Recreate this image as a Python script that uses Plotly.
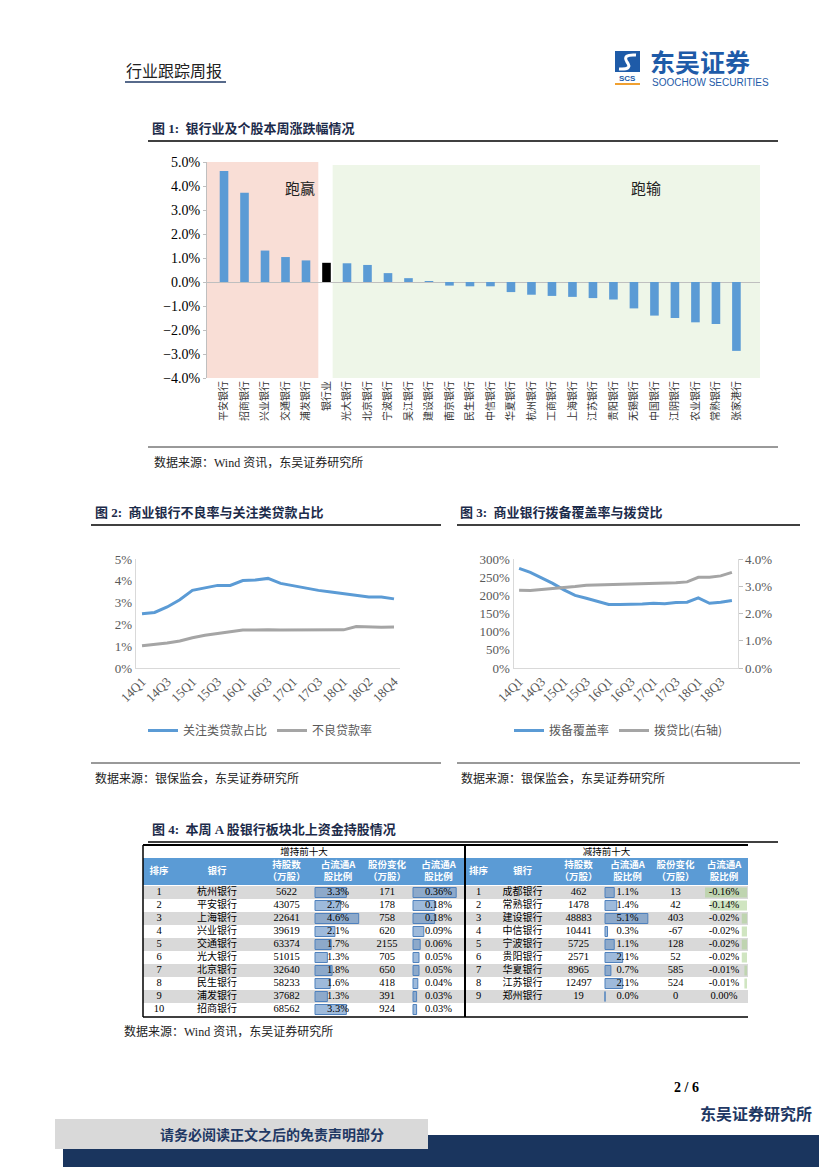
import plotly.graph_objects as go

W, H = 827, 1169          # page (screen) size
OFF = 8                   # page body margin in front of the figure
FW, FH = W - OFF, H - OFF # figure size so it ends exactly at the screen edge

def px(x): return (x - OFF) / FW
def py(y): return 1 - (y - OFF) / FH

SERIF = "Liberation Serif, DejaVu Serif, serif"
CJK = "Noto Sans CJK SC, sans-serif"
MIX = "Liberation Serif, Noto Sans CJK SC, serif"
BLUE = "#5B9BD5"
GRAY = "#A5A5A5"
NAVY = "#1F3864"
TITLE_C = "#1C2B4A"

# ---------------- Figure 1 data ----------------
banks1 = ["平安银行", "招商银行", "兴业银行", "交通银行", "浦发银行", "银行业", "光大银行", "北京银行",
          "宁波银行", "吴江银行", "建设银行", "南京银行", "民生银行", "中信银行", "华夏银行", "杭州银行",
          "工商银行", "上海银行", "江苏银行", "贵阳银行", "无锡银行", "中国银行", "江阴银行", "农业银行",
          "常熟银行", "张家港行"]
weekly_chg = [4.62, 3.72, 1.31, 1.04, 0.90, 0.80, 0.78, 0.71, 0.37, 0.16, 0.01, -0.15, -0.18, -0.18,
              -0.42, -0.53, -0.58, -0.62, -0.67, -0.73, -1.10, -1.40, -1.50, -1.68, -1.75, -2.87]

# ---------------- Figure 2 data ----------------
q2_labels = ["14Q1", "14Q2", "14Q3", "14Q4", "15Q1", "15Q2", "15Q3", "15Q4", "16Q1", "16Q2", "16Q3",
             "16Q4", "17Q1", "17Q2", "17Q3", "17Q4", "18Q1", "18Q1'", "18Q2", "18Q3", "18Q4"]
special_mention = [2.49, 2.55, 2.80, 3.13, 3.56, 3.67, 3.79, 3.79, 4.01, 4.04, 4.11, 3.88, 3.78, 3.65,
                   3.56, 3.49, 3.41, 3.33, 3.26, 3.26, 3.17]
npl_ratio = [1.02, 1.07, 1.15, 1.24, 1.39, 1.50, 1.59, 1.67, 1.74, 1.74, 1.76, 1.74, 1.74, 1.74, 1.74,
             1.74, 1.75, 1.90, 1.87, 1.87, 1.88]

# ---------------- Figure 3 data ----------------
q3_labels = ["14Q1", "14Q2", "14Q3", "14Q4", "15Q1", "15Q2", "15Q3", "15Q4", "16Q1", "16Q2", "16Q3",
             "16Q4", "17Q1", "17Q2", "17Q3", "17Q4", "18Q1", "18Q2", "18Q3", "18Q4"]
coverage = [274, 263, 248, 233, 215, 200, 192, 183, 175, 175, 175, 176, 178, 177, 180, 181, 193, 178,
            181, 186]
provision_ratio = [2.85, 2.84, 2.88, 2.91, 2.96, 2.99, 3.04, 3.05, 3.07, 3.08, 3.09, 3.09, 3.11, 3.10,
                   3.13, 3.16, 3.33, 3.33, 3.38, 3.51]

# ---------------- Figure 4 table data ----------------
t_headers = ["排序", "银行", "持股数<br>（万股）", "占流通A<br>股比例", "股份变化<br>（万股）", "占流通A<br>股比例"]
inc_rank = [1, 2, 3, 4, 5, 6, 7, 8, 9, 10]
inc_bank = ["杭州银行", "平安银行", "上海银行", "兴业银行", "交通银行", "光大银行", "北京银行", "民生银行",
            "浦发银行", "招商银行"]
inc_shares = [5622, 43075, 22641, 39619, 63374, 51015, 32640, 58233, 37682, 68562]
inc_pct = [3.3, 2.7, 4.6, 2.1, 1.7, 1.3, 1.8, 1.6, 1.3, 3.3]
inc_change = [171, 178, 758, 620, 2155, 705, 650, 418, 391, 924]
inc_chg_pct = [0.36, 0.18, 0.18, 0.09, 0.06, 0.05, 0.05, 0.04, 0.03, 0.03]

dec_rank = [1, 2, 3, 4, 5, 6, 7, 8, 9]
dec_bank = ["成都银行", "常熟银行", "建设银行", "中信银行", "宁波银行", "贵阳银行", "华夏银行", "江苏银行",
            "郑州银行"]
dec_shares = [462, 1478, 48883, 10441, 5725, 2571, 8965, 12497, 19]
dec_pct = [1.1, 1.4, 5.1, 0.3, 1.1, 2.1, 0.7, 2.1, 0.0]
dec_change = [13, 42, 403, -67, 128, 52, 585, 524, 0]
dec_chg_pct = [-0.16, -0.14, -0.02, -0.02, -0.02, -0.02, -0.01, -0.01, 0.00]

fig = go.Figure()
shapes = []
anns = []

def hline(x0, x1, y, color="#000", w=1.0):
    shapes.append(dict(type="line", xref="paper", yref="paper", x0=px(x0), x1=px(x1), y0=py(y), y1=py(y),
                       line=dict(color=color, width=w)))

def rect(x0, y0, x1, y1, fill, ref="paper", layer="above", lw=0, lc=None):
    if ref == "paper":
        d = dict(type="rect", xref="paper", yref="paper", x0=px(x0), x1=px(x1), y0=py(y0), y1=py(y1))
    else:
        d = dict(type="rect", xref="x5", yref="y5", x0=x0, x1=x1, y0=y0, y1=y1)
    d.update(fillcolor=fill, layer=layer, line=dict(width=lw, color=lc or fill))
    shapes.append(d)

def ann(text, x, y, size, color="#000", family=MIX, xanchor="left", yanchor="middle"):
    anns.append(dict(text=text, x=px(x), y=py(y), xref="paper", yref="paper", showarrow=False,
                     xanchor=xanchor, yanchor=yanchor, font=dict(size=size, color=color, family=family)))

# ---------------- Header ----------------
ann("行业跟踪周报", 124, 70, 16, "#222", CJK)
hline(125, 226, 82, NAVY, 1.5)
rect(615, 51, 640, 72, "#1E5BA8")
shapes.append(dict(type="path", xref="paper", yref="paper",
                   path="M %f,%f Q %f,%f %f,%f Q %f,%f %f,%f" % (
                       px(636), py(55), px(622), py(54), px(627), py(62),
                       px(633), py(70), px(619), py(69)),
                   line=dict(color="white", width=3)))
ann("<b>SCS</b>", 627.5, 78.5, 8, "#1E5BA8", "Liberation Sans", "center")
hline(615, 640, 84, "#F0A030", 2)
ann("<b>东吴证券</b>", 648, 61, 25, "#1E5BA8", CJK)
ann("SOOCHOW SECURITIES", 650, 83, 10, "#1E5BA8", "Liberation Sans Narrow, Liberation Sans")

# ---------------- Figure 1 ----------------
ann("<b>图 1:  银行业及个股本周涨跌幅情况</b>", 150, 129, 13, TITLE_C)
hline(148, 778, 141, "#000", 1.5)
hline(148, 778, 447, "#000", 0.8)
ann("数据来源：Wind 资讯，东吴证券研究所", 152, 462, 12, "#222")

bar_colors = ["#000000" if b == "银行业" else BLUE for b in banks1]
fig.add_trace(go.Bar(x=banks1, y=weekly_chg, marker=dict(color=bar_colors, line=dict(width=0)),
                     width=0.42, xaxis="x", yaxis="y", showlegend=False, hoverinfo="skip"))
shapes.append(dict(type="rect", xref="x", yref="y", x0=-0.83, x1=4.6, y0=-4.25, y1=5.0,
                   fillcolor="#F9DED6", line=dict(width=0), layer="below"))
shapes.append(dict(type="rect", xref="x", yref="y", x0=5.3, x1=26.15, y0=-4.25, y1=4.88,
                   fillcolor="#EEF6E8", line=dict(width=0), layer="below"))
ann("跑赢", 300, 187, 15, "#222", CJK, "center")
ann("跑输", 646, 187, 15, "#222", CJK, "center")

# ---------------- Figure 2 ----------------
ann("<b>图 2:  商业银行不良率与关注类贷款占比</b>", 93, 512, 13, TITLE_C)
hline(91, 441, 525, "#000", 1.5)
hline(91, 441, 763, "#000", 0.8)
ann("数据来源：银保监会，东吴证券研究所", 93, 778, 12, "#222")

fig.add_trace(go.Scatter(x=q2_labels, y=special_mention, mode="lines", name="关注类贷款占比",
                         line=dict(color=BLUE, width=3), xaxis="x2", yaxis="y2", legend="legend",
                         hoverinfo="skip"))
fig.add_trace(go.Scatter(x=q2_labels, y=npl_ratio, mode="lines", name="不良贷款率",
                         line=dict(color=GRAY, width=3), xaxis="x2", yaxis="y2", legend="legend",
                         hoverinfo="skip"))

# ---------------- Figure 3 ----------------
ann("<b>图 3:  商业银行拨备覆盖率与拨贷比</b>", 458, 512, 13, TITLE_C)
hline(457, 800, 525, "#000", 1.5)
hline(457, 800, 763, "#000", 0.8)
ann("数据来源：银保监会，东吴证券研究所", 459, 778, 12, "#222")

fig.add_trace(go.Scatter(x=q3_labels, y=coverage, mode="lines", name="拨备覆盖率",
                         line=dict(color=BLUE, width=3), xaxis="x3", yaxis="y3", legend="legend2",
                         hoverinfo="skip"))
fig.add_trace(go.Scatter(x=q3_labels, y=provision_ratio, mode="lines", name="拨贷比(右轴)",
                         line=dict(color=GRAY, width=3), xaxis="x3", yaxis="y4", legend="legend2",
                         hoverinfo="skip"))

# ---------------- Figure 4 (table) ----------------
ann("<b>图 4:  本周 A 股银行板块北上资金持股情况</b>", 150, 829, 13, TITLE_C)
hline(148, 778, 842, "#000", 1.5)
ann("数据来源：Wind 资讯，东吴证券研究所", 122, 1031, 12, "#222")

L_cx = [159, 217, 286.5, 338, 387, 438.5]
R_cx = [478.5, 522.5, 578.5, 627.5, 675.5, 724]
TOP, SUB, HDR_BOT = 845, 858, 885
row_y = [HDR_BOT + 1 + 13 * i + 6.5 for i in range(10)]

# row shading
for i in range(10):
    if i % 2 == 0:
        rect(143, row_y[i] - 6.5, 465, row_y[i] + 6.5, "#D9D9D9", ref="x5", layer="below")
        if i < len(dec_rank):
            rect(465, row_y[i] - 6.5, 748, row_y[i] + 6.5, "#D9D9D9", ref="x5", layer="below")
rect(143, SUB, 748, HDR_BOT, "#5B9BD5", ref="x5", layer="below")

# borders
for (x0, y0, x1, y1, w) in [(143, TOP, 748, TOP, 2), (143, 1017, 748, 1017, 1.5),
                            (143, TOP, 143, 1017, 1.5), (465, TOP, 465, 1017, 2)]:
    shapes.append(dict(type="line", xref="x5", yref="y5", x0=x0, y0=y0, x1=x1, y1=y1,
                       line=dict(color="#000", width=w)))

def txt(xs, ys, texts, size, color="#000", family=SERIF):
    fig.add_trace(go.Scatter(x=xs, y=ys, text=texts, mode="text", textposition="middle center",
                             textfont=dict(size=size, color=color, family=family),
                             xaxis="x5", yaxis="y5", showlegend=False, hoverinfo="skip"))

# data bars
def dbar(vals, base, scale, color, lc):
    fig.add_trace(go.Bar(orientation="h", y=row_y[:len(vals)], x=[v * scale for v in vals], base=base,
                         width=10, marker=dict(color=color, line=dict(color=lc, width=1)),
                         xaxis="x5", yaxis="y5", showlegend=False, hoverinfo="skip"))

dbar(inc_pct, 315, 9.5, "rgba(79,129,189,0.55)", "#4F81BD")
dbar(inc_chg_pct, 413, 120, "rgba(79,129,189,0.55)", "#4F81BD")
dbar(dec_pct, 605, 8.4, "rgba(79,129,189,0.55)", "#4F81BD")
dbar(dec_chg_pct, 747, 262, "rgba(169,208,142,0.55)", "rgba(169,208,142,0.0)")

# header texts
txt([304], [852.5], ["增持前十大"], 9.5, "#000", CJK)
txt([606.5], [852.5], ["减持前十大"], 9.5, "#000", CJK)
hy = (SUB + HDR_BOT) / 2
txt(L_cx, [hy] * 6, ["<b>%s</b>" % h for h in t_headers], 9.5, "white", CJK)
txt(R_cx, [hy] * 6, ["<b>%s</b>" % h for h in t_headers], 9.5, "white", CJK)

# body texts - increase
txt([L_cx[0]] * 10, row_y, [str(v) for v in inc_rank], 10.5)
txt([L_cx[1]] * 10, row_y, inc_bank, 10, "#000", CJK)
txt([L_cx[2]] * 10, row_y, [str(v) for v in inc_shares], 10.5)
txt([L_cx[3]] * 10, row_y, ["%.1f%%" % v for v in inc_pct], 10.5)
txt([L_cx[4]] * 10, row_y, [str(v) for v in inc_change], 10.5)
txt([L_cx[5]] * 10, row_y, ["%.2f%%" % v for v in inc_chg_pct], 10.5)
# body texts - decrease
n = len(dec_rank)
txt([R_cx[0]] * n, row_y[:n], [str(v) for v in dec_rank], 10.5)
txt([R_cx[1]] * n, row_y[:n], dec_bank, 10, "#000", CJK)
txt([R_cx[2]] * n, row_y[:n], [str(v) for v in dec_shares], 10.5)
txt([R_cx[3]] * n, row_y[:n], ["%.1f%%" % v for v in dec_pct], 10.5)
txt([R_cx[4]] * n, row_y[:n], [str(v) for v in dec_change], 10.5)
txt([R_cx[5]] * n, row_y[:n], ["%.2f%%" % v for v in dec_chg_pct], 10.5)

# ---------------- Footer ----------------
ann("<b>2 / 6</b>", 686, 1087, 14, "#000", SERIF, "center")
ann("<b>东吴证券研究所</b>", 756, 1113, 16, NAVY, CJK, "center")
rect(63, 1135, 827, 1167, "#1A355E")
rect(55, 1119, 428, 1149, "#D9D9D9")
ann("<b>请务必阅读正文之后的免责声明部分</b>", 272, 1134, 14, NAVY, CJK, "center")

axfont = dict(family=SERIF, size=13, color="#595959")
fig.update_layout(
    width=FW, height=FH, margin=dict(l=0, r=0, t=0, b=0, pad=0, autoexpand=False),
    paper_bgcolor="white", plot_bgcolor="rgba(0,0,0,0)",
    barmode="overlay", shapes=shapes, annotations=anns,
    xaxis=dict(domain=[px(207), px(760)], anchor="y", type="category", range=[-0.83, 26.15],
               tickangle=-90, tickfont=dict(family=CJK, size=10, color="#333"), showgrid=False,
               showline=False, ticks="", fixedrange=True, automargin=False),
    yaxis=dict(domain=[py(378), py(162)], anchor="x", range=[-4, 5], dtick=1, tickformat=".1f",
               ticksuffix="%", showgrid=False, zeroline=True, zerolinecolor="#BFBFBF", zerolinewidth=1,
               showline=True, linecolor="#BFBFBF", ticks="outside", ticklen=3, tickcolor="#BFBFBF",
               tickfont=dict(family=SERIF, size=14, color="#000"), fixedrange=True, automargin=False),
    xaxis2=dict(domain=[px(135.7), px(400.3)], anchor="y2", type="category", range=[-0.5, 20.5],
                tickmode="array", tickvals=q2_labels[::2], ticktext=q2_labels[::2], tickangle=-45,
                tickfont=axfont, showline=True, linecolor="#D9D9D9", showgrid=False, ticks="",
                fixedrange=True, automargin=False),
    yaxis2=dict(domain=[py(668), py(559)], anchor="x2", range=[0, 5], dtick=1, ticksuffix="%",
                tickfont=axfont, showline=True, linecolor="#D9D9D9", showgrid=False, zeroline=False,
                fixedrange=True, automargin=False),
    xaxis3=dict(domain=[px(513.5), px(737.5)], anchor="y3", type="category", range=[-0.5, 19.5],
                tickmode="array", tickvals=q3_labels[::2], ticktext=q3_labels[::2], tickangle=-45,
                tickfont=axfont, showline=True, linecolor="#D9D9D9", showgrid=False, ticks="",
                fixedrange=True, automargin=False),
    yaxis3=dict(domain=[py(668), py(559)], anchor="x3", range=[0, 300], dtick=50, ticksuffix="%",
                tickfont=axfont, showline=True, linecolor="#D9D9D9", showgrid=False, zeroline=False,
                fixedrange=True, automargin=False),
    yaxis4=dict(overlaying="y3", anchor="x3", side="right", range=[0, 4], dtick=1, tickformat=".1f",
                ticksuffix="%", tickfont=axfont, showline=True, linecolor="#D9D9D9", ticks="outside",
                ticklen=4, tickcolor="#BFBFBF", showgrid=False, zeroline=False, fixedrange=True,
                automargin=False),
    xaxis5=dict(domain=[0, 1], anchor="y5", range=[OFF, W], visible=False, fixedrange=True,
                automargin=False),
    yaxis5=dict(domain=[0, 1], anchor="x5", range=[H, OFF], visible=False, fixedrange=True,
                automargin=False),
    legend=dict(x=px(143), y=py(716), xanchor="left", yanchor="top", orientation="h",
                font=dict(family=CJK, size=12, color="#595959"), itemwidth=30,
                bgcolor="rgba(0,0,0,0)"),
    legend2=dict(x=px(509), y=py(716), xanchor="left", yanchor="top", orientation="h",
                 font=dict(family=CJK, size=12, color="#595959"), itemwidth=30,
                 bgcolor="rgba(0,0,0,0)"),
)

fig.write_html("out.html")
